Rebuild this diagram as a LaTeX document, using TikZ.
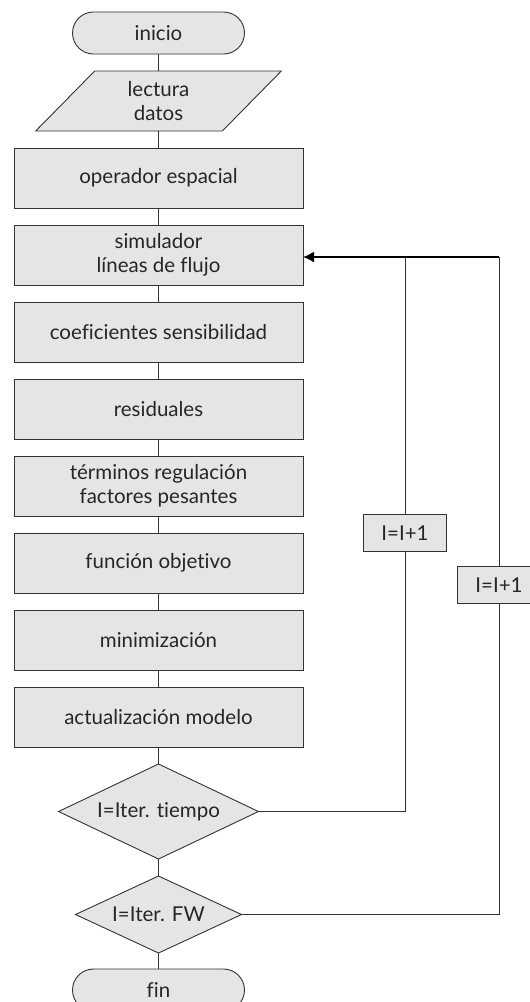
\documentclass[tikz,border=0pt]{standalone}
\usepackage{fontspec}
\setmainfont{Lato}[Ligatures={NoCommon}]
\usetikzlibrary{positioning,shapes.geometric,arrows.meta}

\begin{document}
\begin{tikzpicture}[
  x=1pt, y=-1pt,
  node distance=17pt,
  font=\fontsize{20.5}{24}\selectfont,
  every node/.style={draw=black!80, fill=black!10, line width=0.9pt, outer sep=0pt, align=center, text=black!85},
  procbox/.style={rectangle, minimum width=289pt, minimum height=60pt},
  termbox/.style={rectangle, rounded corners=21pt, minimum width=172pt, minimum height=42pt},
  databox/.style={trapezium, trapezium left angle=54, trapezium right angle=126, trapezium stretches=true, minimum width=246pt, minimum height=60pt, inner sep=0pt},
  decbox/.style={diamond, aspect=2.1, inner sep=0pt},
  incbox/.style={rectangle, minimum width=83pt, minimum height=37pt},
  link/.style={draw=black!80, line width=0.9pt},
  feedback/.style={draw=black, line width=1.6pt, -{Latex[length=11pt,width=11pt]}}
]
\useasboundingbox (0,0) rectangle (530,1002);

% columna principal
\node[termbox] (ini) at (158.5,33) {inicio};
\node[databox, below=of ini] (dat) {lectura\\datos};
\node[procbox, below=of dat] (ope) {operador espacial};
\node[procbox, below=of ope] (sim) {simulador\\líneas de flujo};
\node[procbox, below=of sim] (coe) {coeficientes sensibilidad};
\node[procbox, below=of coe] (res) {residuales};
\node[procbox, below=of res] (ter) {términos regulación\\factores pesantes};
\node[procbox, below=of ter] (fun) {función objetivo};
\node[procbox, below=of fun] (min) {minimización};
\node[procbox, below=of min] (act) {actualización modelo};
\node[decbox, minimum width=200pt, minimum height=95pt, below=of act] (tie) {I=Iter. tiempo};
\node[decbox, minimum width=166pt, minimum height=77pt, below=of tie] (fw) {I=Iter. FW};
\node[termbox, below=16pt of fw] (fin) {fin};

\foreach \a/\b in {ini/dat, dat/ope, ope/sim, sim/coe, coe/res, res/ter, ter/fun, fun/min, min/act, act/tie, tie/fw, fw/fin}
  \draw[link] (\a) -- (\b);

% lazos de iteracion
\coordinate (up1) at (405,257);
\coordinate (up2) at (499,257);
\node[incbox] (inc1) at (405,533) {I=I+1};
\node[incbox] (inc2) at (499,585) {I=I+1};

\draw[link] (tie.east) -| (inc1);
\draw[link] (inc1) -- (up1);
\draw[link] (fw.east) -| (inc2);
\draw[link] (inc2) -- (up2);
\draw[feedback] (up2) -- (sim.east |- up2);
\end{tikzpicture}
\end{document}
